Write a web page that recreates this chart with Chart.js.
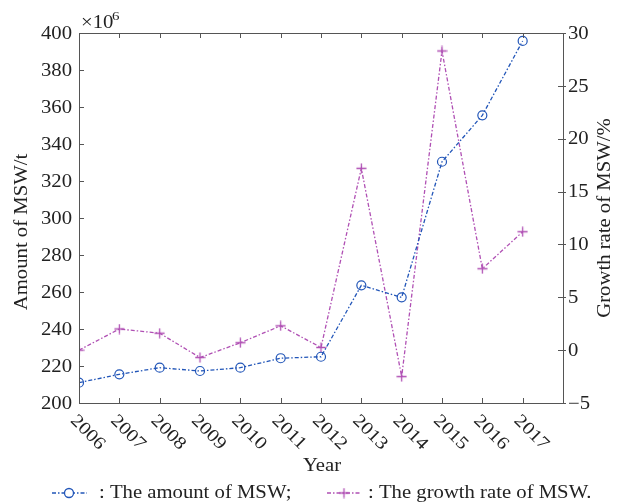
<!DOCTYPE html>
<html>
<head>
<meta charset="utf-8">
<script src="https://cdn.jsdelivr.net/npm/chart.js@4/dist/chart.umd.min.js"></script>
<style>
  html, body { margin: 0; padding: 0; background: #fff; }
  #wrap { width: 626px; height: 503px; }
</style>
</head>
<body>
<div id="wrap"><canvas id="chart" width="626" height="503"></canvas></div>
<script>
const years = [2006, 2007, 2008, 2009, 2010, 2011, 2012, 2013, 2014, 2015, 2016, 2017];
const amountMSW = [211, 215.5, 219.1, 217.3, 219.1, 224.2, 225.0, 263.6, 257.1, 330.4, 355.5, 395.7];
const growthRate = [0, 2.0, 1.6, -0.7, 0.7, 2.3, 0.25, 17.2, -2.5, 28.3, 7.7, 11.2];
const leftTicks = [200, 220, 240, 260, 280, 300, 320, 340, 360, 380, 400];
const rightTicks = [-5, 0, 5, 10, 15, 20, 25, 30];

const blue = "#2155b8";
const purple = "#b050b4";
const font = "Liberation Serif";
const textColor = "#222";
const axisColor = "#555";
const stretch = 1.15; // the reference type is a little wider than Liberation Serif

// plus-sign marker drawn as canvas
function plusMarker(color) {
    const c = document.createElement("canvas");
    c.width = 11; c.height = 11;
    const g = c.getContext("2d");
    g.strokeStyle = color;
    g.lineWidth = 1.3;
    g.beginPath();
    g.moveTo(5.5, 0.5); g.lineTo(5.5, 10.5);
    g.moveTo(0.5, 5.5); g.lineTo(10.5, 5.5);
    g.stroke();
    return c;
}
const plusImg = plusMarker(purple);

// text with a slight horizontal stretch, optional rotation
function drawText(ctx, str, x, y, opts) {
    const o = Object.assign({ size: 18, align: "left", base: "middle", rot: 0 }, opts);
    ctx.save();
    ctx.font = o.size + "px '" + font + "'";
    ctx.textAlign = o.align;
    ctx.textBaseline = o.base;
    ctx.translate(x, y);
    ctx.rotate(o.rot);
    ctx.scale(stretch, 1);
    ctx.fillText(str, 0, 0);
    ctx.restore();
}

const decorPlugin = {
    id: "decor",
    afterDraw(chart) {
        const ctx = chart.ctx;
        const a = chart.chartArea;
        const x = chart.scales.x, y = chart.scales.y, y1 = chart.scales.y1;
        ctx.save();
        ctx.strokeStyle = axisColor;
        ctx.lineWidth = 1;
        ctx.strokeRect(Math.round(a.left) + 0.5, Math.round(a.top) + 0.5,
            Math.round(a.right - a.left), Math.round(a.bottom - a.top));
        ctx.beginPath();
        // inward ticks
        for (let yr = 2006; yr <= 2018; yr++) {
            const px = Math.round(x.getPixelForValue(yr)) + 0.5;
            ctx.moveTo(px, a.bottom); ctx.lineTo(px, a.bottom - 5);
            ctx.moveTo(px, a.top); ctx.lineTo(px, a.top + 5);
        }
        leftTicks.forEach(v => {
            const py = Math.round(y.getPixelForValue(v)) + 0.5;
            ctx.moveTo(a.left, py); ctx.lineTo(a.left + 5, py);
        });
        rightTicks.forEach(v => {
            const py = Math.round(y1.getPixelForValue(v)) + 0.5;
            ctx.moveTo(a.right - 5, py); ctx.lineTo(a.right + 3, py);
        });
        ctx.stroke();

        ctx.fillStyle = textColor;
        // tick labels
        leftTicks.forEach(v => {
            drawText(ctx, String(v), a.left - 7, y.getPixelForValue(v) + 1, { align: "right" });
        });
        rightTicks.forEach(v => {
            const s = v < 0 ? "\u2212" + Math.abs(v) : String(v);
            drawText(ctx, s, a.right + 5, y1.getPixelForValue(v) + 1);
        });
        years.forEach(yr => {
            const px = x.getPixelForValue(yr);
            drawText(ctx, String(yr), px - 6, a.bottom + 15, { rot: Math.PI / 4 });
        });

        // multiplier
        drawText(ctx, "\u00d710", a.left + 2, 28, { base: "alphabetic" });
        drawText(ctx, "6", a.left + 33, 20, { size: 13, base: "alphabetic" });

        // axis titles
        drawText(ctx, "Year", 322, 466, { align: "center" });
        drawText(ctx, "Amount of MSW/t", 22, 232, { align: "center", rot: -Math.PI / 2 });
        drawText(ctx, "Growth rate of MSW/%", 605, 218, { align: "center", rot: -Math.PI / 2 });

        // legend
        const ly = 493;
        ctx.lineWidth = 1.3;
        ctx.setLineDash([4, 2, 1.5, 2]);
        ctx.strokeStyle = blue;
        ctx.beginPath(); ctx.moveTo(52, ly); ctx.lineTo(87, ly); ctx.stroke();
        ctx.strokeStyle = purple;
        ctx.beginPath(); ctx.moveTo(327, ly); ctx.lineTo(361, ly); ctx.stroke();
        ctx.setLineDash([]);
        ctx.fillStyle = "#fff";
        ctx.strokeStyle = blue;
        ctx.beginPath(); ctx.arc(69, ly, 4.5, 0, Math.PI * 2); ctx.fill(); ctx.stroke();
        ctx.drawImage(plusImg, 344 - 5.5, ly - 5.5);
        ctx.fillStyle = textColor;
        drawText(ctx, ": The amount of MSW;", 99, ly);
        drawText(ctx, ": The growth rate of MSW.", 368, ly);
        ctx.restore();
    }
};

new Chart(document.getElementById("chart"), {
    type: "line",
    data: {
        datasets: [
            {
                label: "The amount of MSW",
                data: years.map((yr, i) => ({ x: yr, y: amountMSW[i] })),
                yAxisID: "y",
                borderColor: blue,
                backgroundColor: "#fff",
                borderWidth: 1.3,
                borderDash: [4, 2, 1.5, 2],
                pointStyle: "circle",
                pointRadius: 4.5,
                pointBorderWidth: 1.2,
                pointBorderColor: blue,
                pointBackgroundColor: "rgba(255,255,255,0)",
                tension: 0,
            },
            {
                label: "The growth rate of MSW",
                data: years.map((yr, i) => ({ x: yr, y: growthRate[i] })),
                yAxisID: "y1",
                borderColor: purple,
                backgroundColor: purple,
                borderWidth: 1.3,
                borderDash: [4, 2, 1.5, 2],
                pointStyle: plusImg,
                tension: 0,
            },
        ],
    },
    options: {
        responsive: false,
        animation: false,
        devicePixelRatio: 1,
        layout: { padding: { top: 33, left: 0, right: 0, bottom: 0 } },
        plugins: { legend: { display: false }, tooltip: { enabled: false } },
        scales: {
            x: {
                type: "linear",
                min: 2006,
                max: 2018,
                ticks: { display: false, stepSize: 1 },
                grid: { display: false },
                border: { display: false },
                afterFit: s => { s.height = 100; },
            },
            y: {
                position: "left",
                min: 200,
                max: 400,
                ticks: { display: false, stepSize: 20 },
                grid: { display: false, drawTicks: false },
                border: { display: false },
                afterFit: s => { s.width = 79; },
            },
            y1: {
                position: "right",
                min: -5,
                max: 30,
                ticks: { display: false, stepSize: 5 },
                grid: { display: false, drawTicks: false },
                border: { display: false },
                afterFit: s => { s.width = 63; },
            },
        },
    },
    plugins: [decorPlugin],
});
</script>
</body>
</html>
